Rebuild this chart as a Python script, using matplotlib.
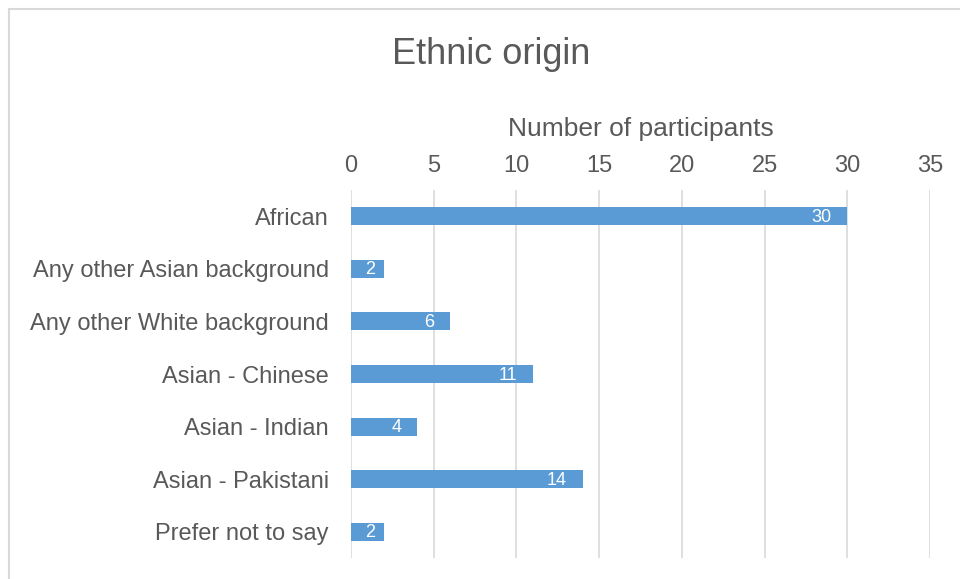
import matplotlib.pyplot as plt
from matplotlib.patches import Rectangle

categories = ['African', 'Any other Asian background', 'Any other White background',
              'Asian - Chinese', 'Asian - Indian', 'Asian - Pakistani', 'Prefer not to say']
counts = [30, 2, 6, 11, 4, 14, 2]
xticks = [0, 5, 10, 15, 20, 25, 30, 35]

plt.rcParams['font.family'] = ['Liberation Sans', 'DejaVu Sans']
text_col = '#595959'
bar_col = '#5B9BD5'
grid_col = '#D9D9D9'

fig = plt.figure(figsize=(9.6, 5.79), dpi=100)
ax = fig.add_axes([351 / 960, 1 - 558 / 579, 579 / 960, 368 / 579])

ypos = range(len(categories))
ax.barh(ypos, counts, height=0.34, color=bar_col, zorder=3)
ax.set_ylim(len(categories) - 0.5, -0.5)
ax.set_xlim(0, 35)
ax.set_yticks(list(ypos))
ax.set_yticklabels(categories, fontsize=17, color=text_col)
ax.set_xticks(xticks)
ax.set_xticklabels([str(t) for t in xticks], fontsize=17, color=text_col)
ax.xaxis.tick_top()
ax.xaxis.set_label_position('top')
ax.set_xlabel('Number of participants', fontsize=19, color=text_col, labelpad=13.5)
ax.tick_params(axis='x', length=0, pad=9.5)
ax.tick_params(axis='y', length=0, pad=16)
ax.grid(axis='x', color=grid_col, linewidth=1.2, zorder=0)
for s in ax.spines.values():
    s.set_visible(False)

for y, v in zip(ypos, counts):
    off = -16 if v > 3 else -9
    ax.annotate(str(v), (v, y), xytext=(off, -1), textcoords='offset pixels',
                ha='right', va='center', color='white', fontsize=13, zorder=4)

fig.text(491 / 960, 1 - 54 / 579, 'Ethnic origin', ha='center', va='center',
         fontsize=26, color=text_col)

fig.patches.append(Rectangle((9 / 960, -0.1), 1.0, 1 - 9 / 579 + 0.1,
                             transform=fig.transFigure, fill=False,
                             edgecolor=grid_col, linewidth=1.5))

fig.savefig('out.png', dpi=100)
